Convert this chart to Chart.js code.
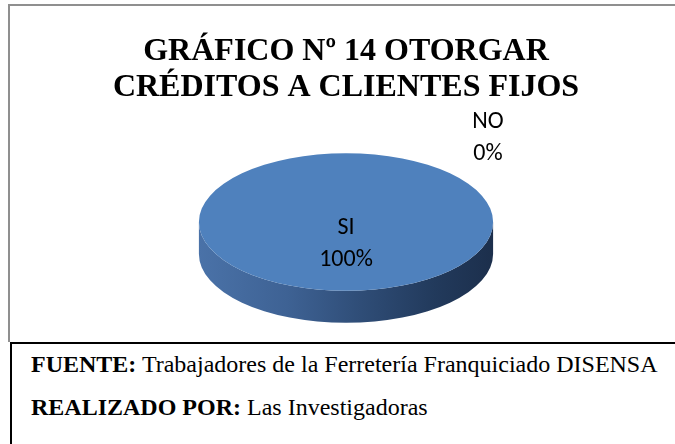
<!DOCTYPE html>
<html lang="es">
<head>
<meta charset="utf-8">
<title>Gráfico Nº 14</title>
<script src="https://cdn.jsdelivr.net/npm/chart.js@4.4.1/dist/chart.umd.min.js"></script>
<style>
html,body{margin:0;padding:0;background:#fff;overflow:hidden;width:675px;height:444px}
#marco{position:absolute;left:8px;top:4px;width:700px;height:338px;border-left:2px solid #8f8f8f;border-top:2px solid #8f8f8f;box-sizing:border-box}
#c{position:absolute;left:10px;top:6px}
#tabla{position:absolute;left:10px;top:342px;width:700px;height:120px;border-left:2px solid #000;border-top:2px solid #000;box-sizing:border-box}
#notas{position:absolute;left:31px;top:343px;font:24px/43px "Liberation Serif",serif;color:#000;white-space:nowrap}
</style>
</head>
<body>
<div id="marco"></div>
<canvas id="c" width="678" height="336"></canvas>
<div id="tabla"></div>
<div id="notas"></div>
<script>
// datos
const TITULO = ['GRÁFICO Nº 14 OTORGAR', 'CRÉDITOS A CLIENTES FIJOS'];
const CATEGORIAS = ['SI', 'NO'];
const PORCENTAJES = [100, 0];
const COLORES = ['#4f81bd', '#c0504d'];
const FUENTE = 'Trabajadores de la Ferretería Franquiciado DISENSA';
const REALIZADO = 'Las Investigadoras';

// aspecto del pastel 3D y de las etiquetas
const ESTIRA_X = 1.71, APLASTA_Y = 0.80, GROSOR = 32;
const ETIQ_DX = [0, 142], ETIQ_DY = [12, -94], ETIQ_LINEA = 32;
const ETIQ_FONT = '24px Carlito, "Open Sans", sans-serif';

document.getElementById('notas').innerHTML =
  '<div><b>FUENTE:</b> ' + FUENTE + '</div><div><b>REALIZADO POR:</b> ' + REALIZADO + '</div>';

const pastel3d = {
  id: 'pastel3d',
  beforeDatasetsDraw(chart) {
    const arc = chart.getDatasetMeta(0).data[0];
    const x = arc.x, y = arc.y, r = arc.outerRadius;
    const rx = r * ESTIRA_X, ry = r * APLASTA_Y;
    const ctx = chart.ctx;
    // costado del disco
    const g = ctx.createLinearGradient(x - rx, 0, x + rx, 0);
    g.addColorStop(0, '#4a72a8');
    g.addColorStop(0.3, '#3e6294');
    g.addColorStop(0.55, '#2f4d77');
    g.addColorStop(0.8, '#223a5c');
    g.addColorStop(1, '#1c2f4c');
    ctx.save();
    ctx.beginPath();
    ctx.ellipse(x, y + GROSOR, rx, ry, 0, 0, Math.PI);
    ctx.lineTo(x - rx, y);
    ctx.ellipse(x, y, rx, ry, 0, Math.PI, 0, true);
    ctx.closePath();
    ctx.fillStyle = g;
    ctx.fill();
    ctx.restore();
    // cara superior: el pastel de Chart.js aplastado
    ctx.save();
    ctx.translate(x, y);
    ctx.scale(ESTIRA_X, APLASTA_Y);
    ctx.translate(-x, -y);
  },
  afterDatasetsDraw(chart) {
    const ctx = chart.ctx;
    ctx.restore();
    const meta = chart.getDatasetMeta(0);
    const total = PORCENTAJES.reduce((a, b) => a + b, 0);
    ctx.save();
    ctx.font = ETIQ_FONT;
    ctx.fillStyle = '#000';
    ctx.textAlign = 'center';
    ctx.textBaseline = 'alphabetic';
    meta.data.forEach((arc, i) => {
      const pct = Math.round(PORCENTAJES[i] / total * 100);
      const px = arc.x + ETIQ_DX[i], py = arc.y + ETIQ_DY[i];
      ctx.fillText(CATEGORIAS[i], px, py);
      ctx.fillText(pct + '%', px, py + ETIQ_LINEA);
    });
    ctx.restore();
  }
};

new Chart(document.getElementById('c'), {
  type: 'pie',
  data: {
    labels: CATEGORIAS,
    datasets: [{ data: PORCENTAJES, backgroundColor: COLORES, borderWidth: 0, offset: 0, hoverOffset: 0, clip: false }]
  },
  options: {
    responsive: false,
    animation: false,
    events: [],
    layout: { padding: { top: 0, right: 6, bottom: 34, left: 0 } },
    plugins: {
      legend: { display: false },
      tooltip: { enabled: false },
      title: {
        display: true,
        text: TITULO,
        color: '#000',
        font: { family: '"Liberation Serif", serif', size: 32, weight: 'bold', lineHeight: 1.14 },
        padding: { top: 27, bottom: 30 }
      }
    }
  },
  plugins: [pastel3d]
});
</script>
</body>
</html>
